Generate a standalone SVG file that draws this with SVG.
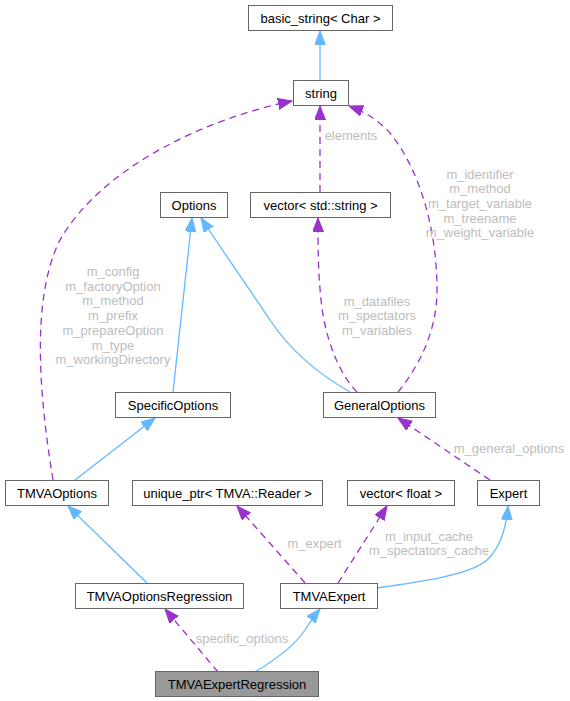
<svg xmlns="http://www.w3.org/2000/svg" width="570" height="701" viewBox="0 0 570 701">
<style>
.node rect{fill:#ffffff;stroke:#666666;stroke-width:1}
.node.focus rect{fill:#999999}
.node text{font-family:"Liberation Sans",Arial,Helvetica,sans-serif;font-size:13px;fill:#000000;text-anchor:middle}
.lbl{font-family:"Liberation Sans",Arial,Helvetica,sans-serif;font-size:13px;fill:#bdbdbd;text-anchor:middle}
.inh{fill:none;stroke:#63b8ff;stroke-width:1.3}
.use{fill:none;stroke:#9a32cd;stroke-width:1.3;stroke-dasharray:7,5}
</style>
<defs>
<marker id="ab" markerUnits="userSpaceOnUse" markerWidth="15" markerHeight="12" refX="14" refY="5.5" orient="auto">
<path d="M0,0 L14,5.5 L0,11 z" fill="#63b8ff" stroke="#63b8ff" stroke-width="1"/>
</marker>
<marker id="ap" markerUnits="userSpaceOnUse" markerWidth="15" markerHeight="12" refX="14" refY="5.5" orient="auto">
<path d="M0,0 L14,5.5 L0,11 z" fill="#9a32cd" stroke="#9a32cd" stroke-width="1"/>
</marker>
</defs>
<g id="edges">
<path class="inh" d="M320,80 L320,31" marker-end="url(#ab)"/>
<path class="use" d="M320,192 L320,106" marker-end="url(#ap)"/>
<path class="use" d="M53,480 C40,400 30,300 60,240 C100,170 200,120 292,101" marker-end="url(#ap)"/>
<path class="use" d="M398,392 C420,365 437,330 437,290 C437,230 420,170 390,133 C378,120 365,112 349,106" marker-end="url(#ap)"/>
<path class="inh" d="M173,392 L192,218" marker-end="url(#ab)"/>
<path class="inh" d="M350,392 C320,375 290,350 270,320 C248,287 222,250 201,218" marker-end="url(#ab)"/>
<path class="use" d="M357,392 C340,375 325,340 321,300 C318,270 318,250 318,218" marker-end="url(#ap)"/>
<path class="inh" d="M75,480 L155,418" marker-end="url(#ab)"/>
<path class="use" d="M490,480 L398,418" marker-end="url(#ap)"/>
<path class="inh" d="M147,583 L68,506" marker-end="url(#ab)"/>
<path class="use" d="M305,583 L237,506" marker-end="url(#ap)"/>
<path class="use" d="M338,583 L387,506" marker-end="url(#ap)"/>
<path class="inh" d="M377,588 C420,582 470,575 487,560 C500,548 506,530 508,506" marker-end="url(#ab)"/>
<path class="use" d="M218,672 L165,609" marker-end="url(#ap)"/>
<path class="inh" d="M255,672 C275,660 295,645 305,630 C310,622 315,615 320,609" marker-end="url(#ab)"/>
<text class="lbl" x="351" y="140">elements</text>
<text class="lbl" x="113"><tspan x="113" y="276">m_config</tspan><tspan x="113" y="290.7">m_factoryOption</tspan><tspan x="113" y="305.4">m_method</tspan><tspan x="113" y="320">m_prefix</tspan><tspan x="113" y="334.8">m_prepareOption</tspan><tspan x="113" y="349.5">m_type</tspan><tspan x="113" y="364.2">m_workingDirectory</tspan></text>
<text class="lbl" x="480"><tspan x="480" y="178.5">m_identifier</tspan><tspan x="480" y="193.2">m_method</tspan><tspan x="480" y="207.9">m_target_variable</tspan><tspan x="480" y="222.6">m_treename</tspan><tspan x="480" y="237.3">m_weight_variable</tspan></text>
<text class="lbl" x="377"><tspan x="377" y="305.5">m_datafiles</tspan><tspan x="377" y="320.2">m_spectators</tspan><tspan x="377" y="334.9">m_variables</tspan></text>
<text class="lbl" x="509" y="452.5">m_general_options</text>
<text class="lbl" x="314.5" y="547.5">m_expert</text>
<text class="lbl" x="429"><tspan x="429" y="540.5">m_input_cache</tspan><tspan x="429" y="555">m_spectators_cache</tspan></text>
<text class="lbl" x="242" y="642.5">specific_options</text>
</g>
<g id="n_basic_string" class="node"><rect x="248.5" y="5.5" width="144" height="25"/><text x="320.5" y="22.5">basic_string&lt; Char &gt;</text></g>
<g id="n_string" class="node"><rect x="293.5" y="80.5" width="55" height="25"/><text x="321" y="97.5">string</text></g>
<g id="n_options" class="node"><rect x="160.5" y="192.5" width="67" height="25"/><text x="194" y="209.5">Options</text></g>
<g id="n_vector_string" class="node"><rect x="250.5" y="192.5" width="140" height="25"/><text x="320.5" y="209.5">vector&lt; std::string &gt;</text></g>
<g id="n_specific" class="node"><rect x="115.5" y="392.5" width="115" height="25"/><text x="173" y="409.5">SpecificOptions</text></g>
<g id="n_general" class="node"><rect x="323.5" y="392.5" width="112" height="25"/><text x="379.5" y="409.5">GeneralOptions</text></g>
<g id="n_tmvaoptions" class="node"><rect x="5.5" y="480.5" width="103" height="25"/><text x="57" y="497.5">TMVAOptions</text></g>
<g id="n_unique_ptr" class="node"><rect x="132.5" y="480.5" width="190" height="25"/><text x="227.5" y="497.5">unique_ptr&lt; TMVA::Reader &gt;</text></g>
<g id="n_vector_float" class="node"><rect x="347.5" y="480.5" width="107" height="25"/><text x="401" y="497.5">vector&lt; float &gt;</text></g>
<g id="n_expert" class="node"><rect x="477.5" y="480.5" width="62" height="25"/><text x="508.5" y="497.5">Expert</text></g>
<g id="n_tmvaoptreg" class="node"><rect x="75.5" y="583.5" width="168" height="25"/><text x="159.5" y="600.5">TMVAOptionsRegression</text></g>
<g id="n_tmvaexpert" class="node"><rect x="280.5" y="583.5" width="97" height="25"/><text x="329" y="600.5">TMVAExpert</text></g>
<g id="n_tmvaexpreg" class="node focus"><rect x="155.5" y="671.5" width="163" height="25"/><text x="237" y="688.5">TMVAExpertRegression</text></g>
</svg>
